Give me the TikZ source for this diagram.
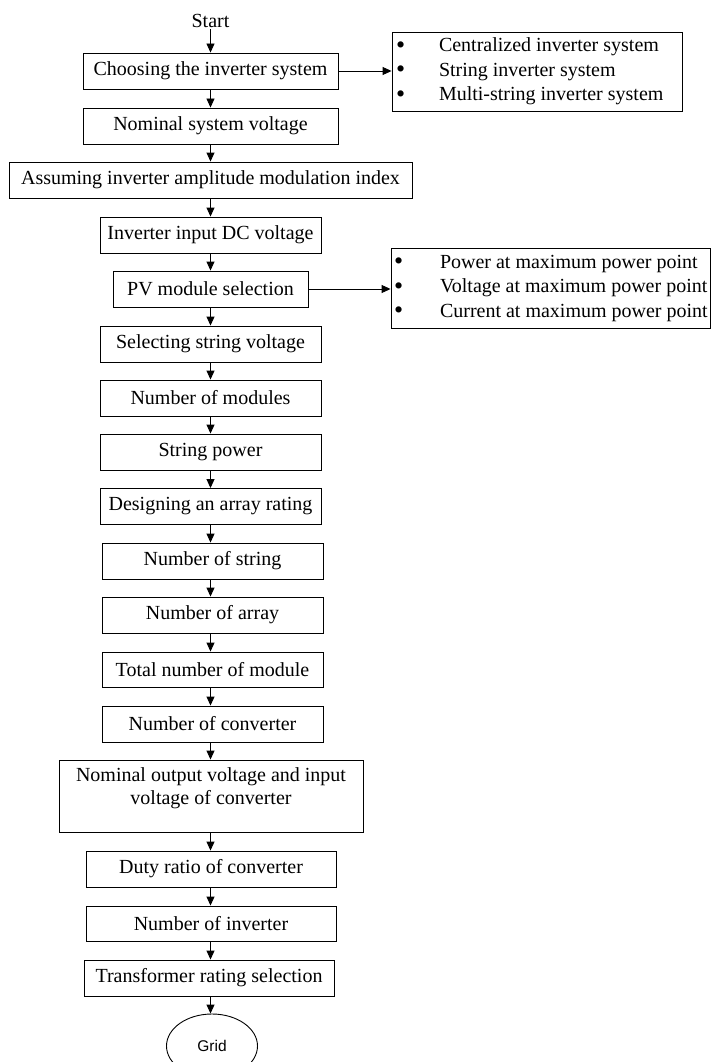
\documentclass[tikz,border=0pt]{standalone}
\usepackage{fontspec}
\setmainfont{Liberation Serif}
\newfontfamily\gridfont{Liberation Sans}
\usetikzlibrary{arrows.meta,shapes.geometric}
\newcommand{\bigbul}{\smash{\raisebox{-1.5pt}{\fontsize{26}{24}\selectfont\textbullet}}}
\tikzset{
  fbox/.style={draw, line width=0.9pt, inner sep=0pt, minimum height=36pt,
    font=\fontsize{20}{23}\selectfont, align=center},
  arr/.style={line width=0.9pt, -{Triangle[length=9pt,width=8pt]}},
  lbox/.style={draw, line width=0.9pt, inner sep=0pt,
    font=\fontsize{20}{24.5}\selectfont},
  gridnode/.style={draw, ellipse, line width=0.9pt, inner sep=0pt,
    minimum width=91pt, minimum height=64pt, font=\gridfont\fontsize{15.5}{17}\selectfont}
}
\begin{document}
\begin{tikzpicture}[x=1pt,y=-1pt]
\useasboundingbox (0,0) rectangle (720,1062);
\coordinate (ax) at (210.5,0);
\node[font=\fontsize{20}{22}\selectfont, inner sep=1pt] (start) at (210.5,21) {Start};
\node[fbox, minimum width=255pt] (b1) at (210.5,71) {Choosing the inverter system};
\node[fbox, minimum width=255pt] (b2) at (210.5,126) {Nominal system voltage};
\node[fbox, minimum width=403pt] (b3) at (210.5,180) {Assuming inverter amplitude modulation index};
\node[fbox, minimum width=221pt] (b4) at (210.5,235) {Inverter input DC voltage};
\node[fbox, minimum width=195pt] (b5) at (210.5,289) {PV module selection};
\node[fbox, minimum width=221pt] (b6) at (210.5,344) {Selecting string voltage};
\node[fbox, minimum width=221pt] (b7) at (210.5,398) {Number of modules};
\node[fbox, minimum width=221pt] (b8) at (210.5,452) {String power};
\node[fbox, minimum width=221pt] (b9) at (210.5,506.5) {Designing an array rating};
\node[fbox, minimum width=221pt] (b10) at (212.5,561) {Number of string};
\node[fbox, minimum width=221pt] (b11) at (212.5,615) {Number of array};
\node[fbox, minimum width=221pt, minimum height=35pt] (b12) at (212.5,669.5) {Total number of module};
\node[fbox, minimum width=221pt] (b13) at (212.5,724) {Number of converter};
\node[fbox, minimum width=304pt, minimum height=72pt] (b14) at (211,796) {Nominal output voltage and input\\voltage of converter\\[-10pt]\strut};
\node[fbox, minimum width=250pt] (b15) at (211,869) {Duty ratio of converter};
\node[fbox, minimum width=250pt, minimum height=35pt] (b16) at (211,923.5) {Number of inverter};
\node[fbox, minimum width=250pt] (b17) at (209,978) {Transformer rating selection};
\node[gridnode] (grid) at (212,1046) {Grid};

\node[lbox, minimum width=290pt, minimum height=79pt] (r1) at (537,71.5)
  {\makebox[290pt][l]{\begin{tabular}{@{\hspace{4pt}}p{43pt}@{}l@{}}
  \bigbul & Centralized inverter system\\
  \bigbul & String inverter system\\
  \bigbul & Multi-string inverter system
  \end{tabular}}};
\node[lbox, minimum width=319pt, minimum height=80pt] (r2) at (550.5,288)
  {\makebox[319pt][l]{\begin{tabular}{@{\hspace{3pt}}p{46pt}@{}l@{}}
  \bigbul & Power at maximum power point\\
  \bigbul & Voltage at maximum power point\\
  \bigbul & Current at maximum power point
  \end{tabular}}};

\draw[arr] (start.south -| ax) -- (b1.north -| ax);
\foreach \a/\b in {b1/b2,b2/b3,b3/b4,b4/b5,b5/b6,b6/b7,b7/b8,b8/b9,b9/b10,b10/b11,b11/b12,b12/b13,b13/b14,b14/b15,b15/b16,b16/b17,b17/grid}
  \draw[arr] (\a.south -| ax) -- (\b.north -| ax);
\draw[arr] (b1.east) -- (b1.east -| r1.west);
\draw[arr] (b5.east) -- (b5.east -| r2.west);
\end{tikzpicture}
\end{document}
